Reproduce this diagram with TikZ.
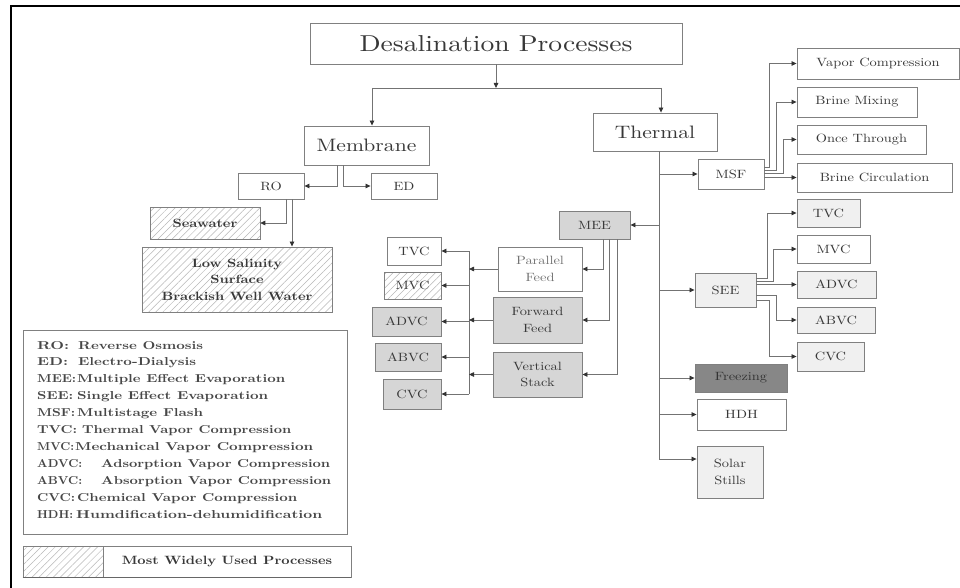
\documentclass[tikz,border=0pt]{standalone}
\usepackage{fontspec}
\setmainfont{lmroman10}[Extension=.otf, UprightFont=*-regular, BoldFont=*-bold, FakeStretch=1.2]
\usetikzlibrary{arrows.meta, patterns.meta}
\tikzset{
  bx/.style={draw=black!50, line width=0.9pt, inner sep=0pt, text=black!78, align=center,
    font=\fontsize{12}{16.5}\selectfont},
  bxb/.style={bx, font=\bfseries\fontsize{12}{16.5}\selectfont},
  hatch/.style={pattern={Lines[angle=45, distance=5pt, line width=0.5pt]}, pattern color=black!28},
  gbox/.style={fill=black!16},
  lbox/.style={fill=black!6},
  dbox/.style={fill=black!47, text=black!80},
  conn/.style={draw=black!55, line width=0.8pt},
  arr/.style={conn, -{Triangle[length=5pt, width=4.5pt, color=black!80]}},
  legt/.style={anchor=base west, inner sep=0pt, text=black!72, font=\bfseries\fontsize{11.5}{14}\selectfont}
}
\begin{document}
\begin{tikzpicture}[x=1pt, y=-1pt]
\useasboundingbox (0,0) rectangle (960,588);
\fill[white] (0,0) rectangle (960,588);
\draw[line width=2pt] (11,600) -- (11,6) -- (975,6);

% top level
\node[bx, font=\fontsize{23}{27}\selectfont, minimum width=372pt, minimum height=41pt] (title) at (496,43.5) {Desalination Processes};
\node[bx, font=\fontsize{18}{22}\selectfont, minimum width=125pt, minimum height=39pt] (membrane) at (366.5,145.5) {Membrane};
\node[bx, font=\fontsize{18}{22}\selectfont, minimum width=124pt, minimum height=38pt] (thermal) at (655,132) {Thermal};

% membrane side
\node[bx, minimum width=66pt, minimum height=26pt] (ro) at (271,186) {RO};
\node[bx, minimum width=66pt, minimum height=26pt] (ed) at (404,186) {ED};
\node[bxb, hatch, minimum width=110pt, minimum height=32pt] (seawater) at (205,223) {Seawater};
\node[bxb, hatch, minimum width=190pt, minimum height=65pt] (lowsal) at (237,279.5) {Low Salinity\\Surface\\Brackish Well Water};

% thermal side
\node[bx, minimum width=66pt, minimum height=30pt] (msf) at (731,174) {MSF};
\node[bx, gbox, minimum width=71pt, minimum height=28pt] (mee) at (594.5,225) {MEE};
\node[bx, lbox, minimum width=61pt, minimum height=34pt] (see) at (725.5,290) {SEE};
\node[bx, dbox, minimum width=92pt, minimum height=28pt] (freezing) at (741,378) {Freezing};
\node[bx, minimum width=89pt, minimum height=31pt] (hdh) at (741.5,414.5) {HDH};
\node[bx, lbox, minimum width=66pt, minimum height=52pt] (solar) at (730,472) {Solar\\Stills};

% MSF children
\node[bx, minimum width=162pt, minimum height=31pt] (vapcomp) at (878,63.5) {Vapor Compression};
\node[bx, minimum width=120pt, minimum height=30pt] (brinemix) at (857,102) {Brine Mixing};
\node[bx, minimum width=129pt, minimum height=29pt] (oncethr) at (861.5,139.5) {Once Through};
\node[bx, minimum width=155pt, minimum height=29pt] (brinecirc) at (874.5,177.5) {Brine Circulation};

% MEE children
\node[bx, text=black!55, minimum width=84pt, minimum height=44pt] (parallel) at (540,269) {Parallel\\Feed};
\node[bx, gbox, minimum width=89pt, minimum height=46pt] (forward) at (537.5,320) {Forward\\Feed};
\node[bx, gbox, minimum width=89pt, minimum height=45pt] (vertical) at (537.5,374.5) {Vertical\\Stack};

% left VC boxes
\node[bx, minimum width=54pt, minimum height=28pt] (tvcl) at (414,251) {TVC};
\node[bx, hatch, minimum width=57pt, minimum height=27pt] (mvcl) at (412.5,285.5) {MVC};
\node[bx, gbox, minimum width=69pt, minimum height=29pt] (advcl) at (406.5,321.5) {ADVC};
\node[bx, gbox, minimum width=66pt, minimum height=28pt] (abvcl) at (408,357) {ABVC};
\node[bx, gbox, minimum width=58pt, minimum height=30pt] (cvcl) at (412,394) {CVC};

% SEE children
\node[bx, lbox, minimum width=63pt, minimum height=28pt] (tvcr) at (828.5,213) {TVC};
\node[bx, minimum width=73pt, minimum height=28pt] (mvcr) at (833.5,249) {MVC};
\node[bx, lbox, minimum width=79pt, minimum height=27pt] (advcr) at (836.5,284.5) {ADVC};
\node[bx, lbox, minimum width=78pt, minimum height=26pt] (abvcr) at (836,320) {ABVC};
\node[bx, lbox, minimum width=67pt, minimum height=29pt] (cvcr) at (830.5,356.5) {CVC};

% legend
\node[draw=black!50, line width=0.9pt, inner sep=0pt, minimum width=324pt, minimum height=204pt] (legend) at (185,432) {};
\foreach \i/\ab/\aw/\tx/\xx/\tw in {
  1/RO:/32pt/Reverse Osmosis/78/125pt,
  2/ED:/31pt/Electro-Dialysis/78/118pt,
  3/MEE:/39pt/Multiple Effect Evaporation/77/208pt,
  4/SEE:/36pt/Single Effect Evaporation/77/191pt,
  5/MSF:/38pt/Multistage Flash/77/126pt,
  6/TVC:/40pt/Thermal Vapor Compression/82/209pt,
  7/MVC:/37pt/Mechanical Vapor Compression/75/238pt,
  8/ADVC:/45pt/Adsorption Vapor Compression/101/229pt,
  9/ABVC:/45pt/Absorption Vapor Compression/101/230pt,
  10/CVC:/38pt/Chemical Vapor Compression/77/220pt,
  11/HDH:/36pt/Humdification-dehumidification/76/246pt}{
  \node[legt] (la\i) at (37,{332.1+16.9*\i}) {\resizebox{\aw}{\height}{\ab}};
  \node[legt] (lb\i) at (\xx,{332.1+16.9*\i}) {\resizebox{\tw}{\height}{\tx}};
}
\node[bx, hatch, minimum width=80pt, minimum height=31pt] (keyh) at (63,561.5) {};
\node[bxb, minimum width=248pt, minimum height=31pt] (keyt) at (227,561.5) {Most Widely Used Processes};
\draw[line width=1.4pt, black!60] (keyh.south west) -- (keyt.south east);

% connectors: top
\coordinate (bus1) at (496,88);
\coordinate (bl) at (372,88);
\coordinate (br) at (661,88);
\draw[conn] (bl) -- (br);
\draw[arr] (title.south) -- (bus1);
\draw[arr] (bl) -- (bl |- membrane.north);
\draw[arr] (br) -- (br |- thermal.north);

% membrane
\coordinate (mro) at ([xshift=-29.5pt]membrane.south);
\coordinate (med) at ([xshift=-23.5pt]membrane.south);
\draw[arr] (mro) |- (ro.east);
\draw[arr] (med) |- (ed.west);
\coordinate (rsw) at ([xshift=15pt]ro.south);
\coordinate (rls) at ([xshift=21pt]ro.south);
\draw[arr] (rsw) |- (seawater.east);
\draw[arr] (rls) -- (rls |- lowsal.north);

% thermal trunk
\coordinate (ttop) at ([xshift=4pt]thermal.south);
\coordinate (tmsf) at (659,174);
\coordinate (tmee) at (659,225);
\coordinate (tsee) at (659,290);
\coordinate (tfrz) at (659,378);
\coordinate (thdh) at (659,414.5);
\coordinate (tsol) at (659,459);
\draw[conn] (ttop) -- (tsol);
\draw[arr] (tmsf) -- (tmsf -| msf.west);
\draw[arr] (tmee) -- (tmee -| mee.east);
\draw[arr] (tsee) -- (tsee -| see.west);
\draw[arr] (tfrz) -- (tfrz -| freezing.west);
\draw[arr] (thdh) -- (thdh -| hdh.west);
\draw[arr] (tsol) -- (tsol -| solar.west);

% MSF children
\draw[arr] ([yshift=7pt]msf.east) -- ++(5,0) |- (vapcomp.west);
\draw[arr] ([yshift=4pt]msf.east) -- ++(12,0) |- (brinemix.west);
\draw[arr] ([yshift=1pt]msf.east) -- ++(19,0) |- (oncethr.west);
\draw[arr] ([yshift=-3.5pt]msf.east) -- (brinecirc.west);

% SEE children
\draw[arr] ([yshift=12pt]see.east) -- ++(11,0) |- (tvcr.west);
\draw[arr] ([yshift=9pt]see.east) -- ++(17,0) |- (mvcr.west);
\draw[arr] ([yshift=5.5pt]see.east) -- (advcr.west);
\draw[arr] ([yshift=-5pt]see.east) -- ++(20,0) |- (abvcr.west);
\draw[arr] ([yshift=-10pt]see.east) -- ++(13,0) |- (cvcr.west);

% MEE children
\coordinate (m1) at ([xshift=8.5pt]mee.south);
\coordinate (m2) at ([xshift=14.5pt]mee.south);
\coordinate (m3) at ([xshift=22.5pt]mee.south);
\draw[arr] (m1) |- (parallel.east);
\draw[arr] (m2) |- (forward.east);
\draw[arr] (m3) |- (vertical.east);

% left bus
\coordinate (btop) at (469,251);
\coordinate (bmvc) at (469,285.5);
\coordinate (badvc) at (469,321.5);
\coordinate (babvc) at (469,357);
\coordinate (bbot) at (469,394);
\coordinate (bp) at (469,269);
\coordinate (bf) at (469,320);
\coordinate (bv) at (469,374.5);
\draw[conn] (btop) -- (bbot);
\draw[arr] (parallel.west) -- (bp);
\draw[arr] (forward.west) -- (bf);
\draw[arr] (vertical.west) -- (bv);
\draw[arr] (btop) -- (btop -| tvcl.east);
\draw[arr] (bmvc) -- (bmvc -| mvcl.east);
\draw[arr] (badvc) -- (badvc -| advcl.east);
\draw[arr] (babvc) -- (babvc -| abvcl.east);
\draw[arr] (bbot) -- (bbot -| cvcl.east);
\end{tikzpicture}
\end{document}
